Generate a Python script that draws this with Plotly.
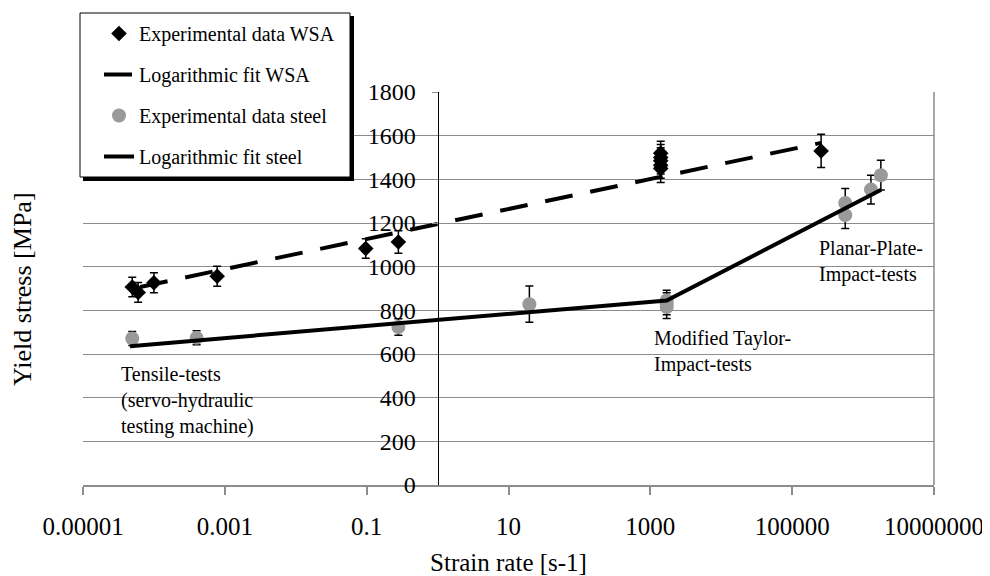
import plotly.graph_objects as go

# ---------------- data ----------------
wsa_x = [4.95e-5, 6.0e-5, 1.0e-4, 7.8e-4, 0.097, 0.28, 1400, 1400, 1400, 1400, 1400, 2.56e5]
wsa_y = [907, 882, 926, 956, 1083, 1113, 1450, 1465, 1485, 1500, 1520, 1530]
wsa_err = [45, 45, 46, 46, 45, 52, 65, 60, 60, 60, 55, 76]

steel_x = [4.95e-5, 4.0e-4, 0.28, 19.7, 1700, 1700, 1700, 5.6e5, 5.6e5, 1.29e6, 1.78e6]
steel_y = [671, 674, 724, 828, 815, 830, 845, 1236, 1292, 1353, 1419]
steel_err = [32, 32, 38, 83, 52, 50, 47, 61, 66, 66, 68]

wsa_fit_x = [6.4e-5, 2.56e5]
wsa_fit_y = [907, 1567]
steel_fit_x = [4.6e-5, 1700, 1.8e6]
steel_fit_y = [636, 845, 1352]

x_tickvals = [1e-5, 1e-3, 1e-1, 1e1, 1e3, 1e5, 1e7]
x_ticktext = ["0.00001", "0.001", "0.1", "10", "1000", "100000", "10000000"]
y_tickvals = [0, 200, 400, 600, 800, 1000, 1200, 1400, 1600, 1800]

legend_names = ["Experimental data WSA", "Logarithmic fit WSA",
                "Experimental data steel", "Logarithmic fit steel"]

# ---------------- layout geometry (page pixels) ----------------
OFF = 8                     # page body margin of the html file
PAGE_W, PAGE_H = 990, 576
PL, PR, PT, PB = 83, 934, 92, 485   # plot area edges in page pixels
W, H = PAGE_W - OFF, PAGE_H - OFF
L, T = PL - OFF, PT - OFF
R, B = PAGE_W - PR, PAGE_H - PB
PW, PH = PR - PL, PB - PT


def px(x):
    return (x - PL) / PW


def py(y):
    return (PB - y) / PH


FONT = "Liberation Serif"

fig = go.Figure()

fig.add_trace(go.Scatter(
    x=wsa_x, y=wsa_y, mode="markers", name=legend_names[0], legendgroup="a",
    marker=dict(symbol="diamond", size=12, color="black"),
    error_y=dict(type="data", array=wsa_err, color="black", thickness=1.5, width=4),
))
fig.add_trace(go.Scatter(
    x=wsa_fit_x, y=wsa_fit_y, mode="lines", name=legend_names[1], legendgroup="b",
    line=dict(color="black", width=4, dash="28px,18px"),
))
fig.add_trace(go.Scatter(
    x=steel_x, y=steel_y, mode="markers", name=legend_names[2], legendgroup="c",
    marker=dict(symbol="circle", size=14, color="#999999"),
    error_y=dict(type="data", array=steel_err, color="black", thickness=1.5, width=4),
))
fig.add_trace(go.Scatter(
    x=steel_fit_x, y=steel_fit_y, mode="lines", name=legend_names[3], legendgroup="d",
    line=dict(color="black", width=4),
))

annot_font = dict(family=FONT, size=20, color="black")
annotations = [
    dict(text="Tensile-tests<br>(servo-hydraulic<br>testing machine)",
         x=px(119), y=py(361), xanchor="left", yanchor="top", align="left"),
    dict(text="Modified Taylor-<br>Impact-tests",
         x=px(652), y=py(325), xanchor="left", yanchor="top", align="left"),
    dict(text="Planar-Plate-<br>Impact-tests",
         x=px(817), y=py(235), xanchor="left", yanchor="top", align="left"),
    dict(text="Yield stress [MPa]", x=px(22), y=py(289), xanchor="center", yanchor="middle",
         textangle=-90, font=dict(family=FONT, size=26, color="black")),
]
for a in annotations:
    a.setdefault("font", annot_font)
    a.update(xref="paper", yref="paper", showarrow=False)

shapes = [
    # right border of plot area
    dict(type="line", xref="paper", yref="paper", x0=1, x1=1, y0=0, y1=1,
         line=dict(color="#8c8c8c", width=1.5)),
    # legend shadow and box
    dict(type="rect", xref="paper", yref="paper", x0=px(83), x1=px(354), y0=py(181), y1=py(16),
         fillcolor="black", line=dict(width=0), layer="above"),
    dict(type="rect", xref="paper", yref="paper", x0=px(80), x1=px(350), y0=py(177), y1=py(13),
         fillcolor="white", line=dict(color="black", width=1), layer="above"),
]

fig.update_layout(
    width=W, height=H,
    margin=dict(l=L, r=R, t=T, b=B, pad=0, autoexpand=False),
    paper_bgcolor="white", plot_bgcolor="white",
    font=dict(family=FONT, size=24, color="black"),
    showlegend=True,
    legend=dict(x=px(99), y=py(14), xanchor="left", yanchor="top",
                bgcolor="rgba(0,0,0,0)", borderwidth=0,
                font=dict(family=FONT, size=20, color="black"),
                tracegroupgap=12, traceorder="grouped"),
    annotations=annotations,
    shapes=shapes,
    xaxis=dict(type="log", range=[-5, 7], tickvals=x_tickvals, ticktext=x_ticktext,
               tickfont=dict(family=FONT, size=25, color="black"), automargin=False,
               ticks="outside", ticklen=8, tickcolor="#8c8c8c", tickwidth=1.5,
               showgrid=False, zeroline=False, showline=True, linecolor="#8c8c8c", linewidth=1.5,
               ticklabelstandoff=10,
               title=dict(text="Strain rate [s-1]", font=dict(family=FONT, size=25), standoff=22)),
    yaxis=dict(range=[0, 1800], tickvals=y_tickvals, anchor="free", position=5 / 12,
               tickfont=dict(family=FONT, size=24, color="black"), automargin=False,
               showgrid=True, gridcolor="#8c8c8c", gridwidth=1, zeroline=False,
               showline=True, linecolor="black", linewidth=1,
               ticks="outside", ticklen=6, tickcolor="#8c8c8c", ticklabelstandoff=11),
)

fig.write_html("out.html")
